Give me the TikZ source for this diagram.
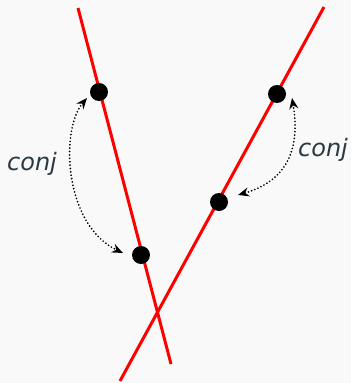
\documentclass[tikz,border=0pt]{standalone}
\usepackage{fontspec}
\newfontfamily\labelfont{DejaVu Sans}
\usetikzlibrary{arrows.meta}
\definecolor{bg}{HTML}{F9F9F9}
\definecolor{labelcol}{HTML}{2B3A42}
\tikzset{
  redline/.style={red, line width=3pt},
  dot/.style={circle, fill=black, inner sep=0pt, minimum size=18pt},
  conjarrow/.style={{Stealth[length=11pt,width=9pt]}-{Stealth[length=11pt,width=9pt]}, line width=1.9pt, dash pattern=on 0pt off 3.4pt, line cap=round},
  lbl/.style={font=\labelfont\fontsize{24}{27}\selectfont\itshape, text=labelcol, anchor=base, inner sep=0pt}
}
\begin{document}
\begin{tikzpicture}[x=1pt,y=-1pt]
\fill[bg] (0,0) rectangle (351,383);
\useasboundingbox (0,0) rectangle (351,383);
\coordinate (l1a) at (78,8);
\coordinate (l1b) at (171,364);
\coordinate (l2a) at (324,7);
\coordinate (l2b) at (120,381);
\draw[redline] (l1a) -- (l1b);
\draw[redline] (l2a) -- (l2b);
\node[dot] (p1) at (99,92) {};
\node[dot] (p2) at (141,255) {};
\node[dot] (q1) at (277,94) {};
\node[dot] (q2) at (219,202) {};
\coordinate (a1) at (87,98);
\coordinate (a2) at (123,253);
\coordinate (b1) at (292,98);
\coordinate (b2) at (238,195);
\draw[conjarrow] (a1) .. controls (60,130) and (64,225) .. (a2);
\draw[conjarrow] (b1) .. controls (300,145) and (290,180) .. (b2);
\node[lbl] (c1) at (32,170) {conj};
\node[lbl] (c2) at (323,156) {conj};
\end{tikzpicture}
\end{document}
